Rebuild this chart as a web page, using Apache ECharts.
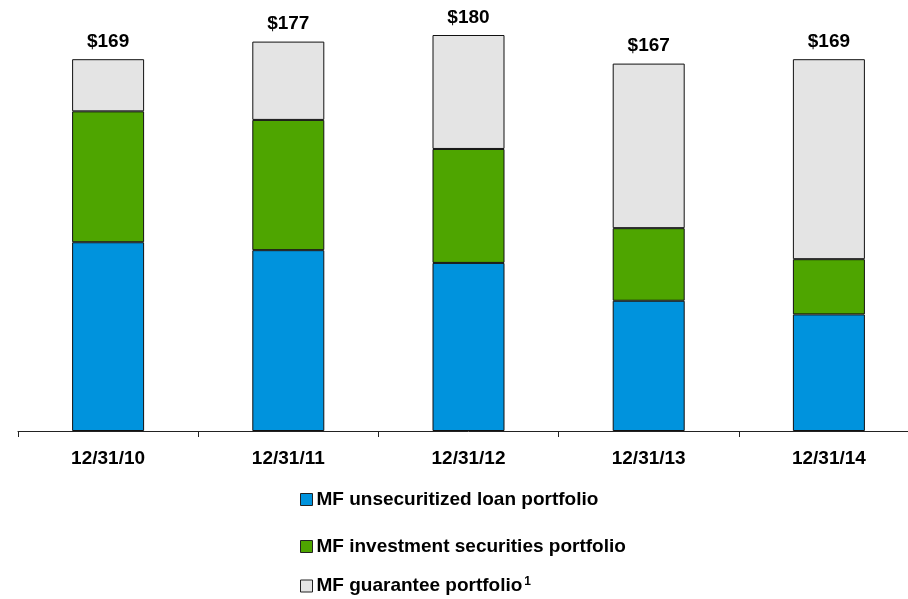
<!DOCTYPE html>
<html>
<head>
<meta charset="utf-8">
<script src="https://cdn.jsdelivr.net/npm/echarts@6/dist/echarts.min.js"></script>
<style>
  html, body { margin: 0; padding: 0; background: #fff; overflow: hidden; }
  #chart { width: 920px; height: 599px; }
</style>
</head>
<body>
<div id="chart"></div>
<script>
const categories = ['12/31/10', '12/31/11', '12/31/12', '12/31/13', '12/31/14'];
const loanPortfolio = [85.8, 82.2, 76.4, 59.2, 53.0];
const securitiesPortfolio = [59.5, 59.2, 51.8, 33.0, 25.1];
const guaranteePortfolio = [23.7, 35.6, 51.8, 74.8, 90.9];
const totals = [169, 177, 180, 167, 169];
const seriesNames = ['MF unsecuritized loan portfolio', 'MF investment securities portfolio', 'MF guarantee portfolio'];

const chart = echarts.init(document.getElementById('chart'));
const font = 'Arial, "Liberation Sans", sans-serif';

function legendAt(name, top) {
  return {
    data: [name],
    orient: 'vertical',
    left: 300,
    top: top,
    padding: 0,
    icon: 'rect',
    itemWidth: 12,
    itemHeight: 12,
    itemGap: 0,
    selectedMode: false,
    itemStyle: { borderColor: '#222', borderWidth: 1 },
    formatter: function (n) {
      return n === seriesNames[2] ? '{t|' + n + '}{s|1}' : '{t|' + n + '}';
    },
    textStyle: {
      color: '#000',
      fontFamily: font,
      fontWeight: 'bold',
      fontSize: 19,
      padding: [0, 0, 0, -1],
      rich: {
        t: { fontSize: 19, fontWeight: 'bold', fontFamily: font, color: '#000', lineHeight: 20 },
        s: { fontSize: 12, fontWeight: 'bold', fontFamily: font, color: '#000', verticalAlign: 'top', padding: [0, 0, 4, 2] }
      }
    }
  };
}

const option = {
  backgroundColor: '#fff',
  animation: false,
  grid: { left: 18, top: 35, width: 901, height: 396, containLabel: false },
  legend: [
    legendAt(seriesNames[0], 490),
    legendAt(seriesNames[1], 537),
    legendAt(seriesNames[2], 576)
  ],
  xAxis: {
    type: 'category',
    data: categories,
    axisLine: { lineStyle: { color: '#222', width: 1 } },
    axisTick: { show: true, length: 6, lineStyle: { color: '#222' } },
    axisLabel: {
      color: '#000',
      fontFamily: font,
      fontWeight: 'bold',
      fontSize: 19,
      margin: 18
    }
  },
  yAxis: {
    type: 'value',
    min: 0,
    max: 180,
    show: false,
    splitLine: { show: false }
  },
  series: [
    {
      name: seriesNames[0],
      type: 'bar',
      stack: 'total',
      barWidth: 72,
      data: loanPortfolio,
      itemStyle: { color: '#0093DD', borderColor: '#111', borderWidth: 1 }
    },
    {
      name: seriesNames[1],
      type: 'bar',
      stack: 'total',
      barWidth: 72,
      data: securitiesPortfolio,
      itemStyle: { color: '#4EA500', borderColor: '#111', borderWidth: 1 }
    },
    {
      name: seriesNames[2],
      type: 'bar',
      stack: 'total',
      barWidth: 72,
      data: guaranteePortfolio,
      itemStyle: { color: '#E4E4E4', borderColor: '#111', borderWidth: 1 },
      label: {
        show: true,
        position: 'top',
        distance: 8,
        color: '#000',
        fontFamily: font,
        fontWeight: 'bold',
        fontSize: 19,
        formatter: function (p) { return '$' + totals[p.dataIndex]; }
      }
    }
  ]
};

option && chart.setOption(option);
</script>
</body>
</html>
